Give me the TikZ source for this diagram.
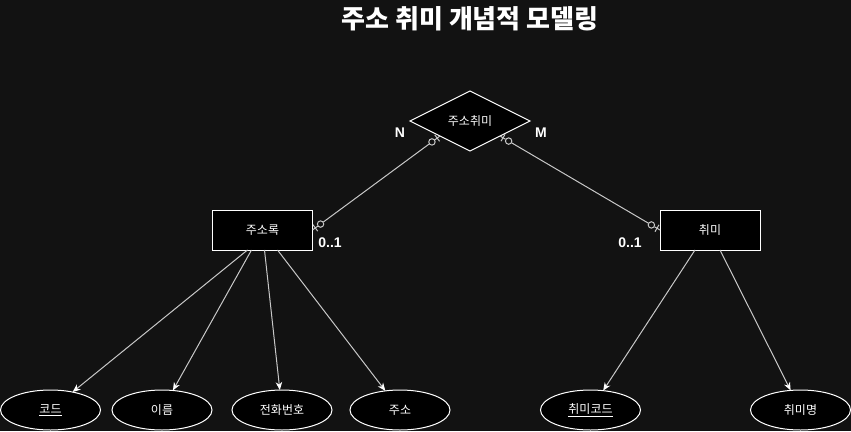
\documentclass[tikz,border=0pt]{standalone}
\usepackage{fontspec}
\setmainfont{Liberation Sans}
\newfontfamily\kr{Noto Sans CJK KR}
\usetikzlibrary{shapes.geometric,arrows.meta,calc}
\definecolor{bgc}{RGB}{18,18,18}
\definecolor{lnc}{RGB}{200,200,200}
\begin{document}
\begin{tikzpicture}[x=1pt,y=-1pt,
  entity/.style={draw=white,fill=black,line width=1pt,minimum width=100pt,minimum height=40pt,inner sep=0pt,outer sep=0pt,text=white,font=\kr\fontsize{12}{14}\selectfont},
  attr/.style={ellipse,draw=white,fill=black,line width=1pt,minimum width=100pt,minimum height=40pt,inner sep=0pt,outer sep=0pt,text=white,font=\kr\fontsize{12}{14}\selectfont},
  rel/.style={diamond,draw=white,fill=black,line width=1pt,minimum width=120pt,minimum height=60pt,inner sep=0pt,outer sep=0pt,text=white,font=\kr\fontsize{12}{14}\selectfont},
  conn/.style={draw=lnc,line width=1pt},
  arr/.style={conn,-{Stealth[length=8pt,width=6.5pt,inset=2.5pt,color=white,fill=white]}},
  lab/.style={text=white,font=\bfseries\fontsize{14}{16}\selectfont,inner sep=0pt},
  ttl/.style={text=white,font=\kr\bfseries\fontsize{26}{28}\selectfont,inner sep=0pt}
]
\fill[bgc] (0,0) rectangle (851,431);
\useasboundingbox (0,0) rectangle (851,431);

\node[ttl] (title) at (470,18.5) {주소 취미 개념적 모델링};

\node[rel] (rel) at (470,121) {주소취미};
\node[entity] (addr) at (262.5,230) {주소록};
\node[entity] (hob) at (710,230) {취미};

\node[attr] (code) at (50.5,410) {\underline{코드}};
\node[attr] (name) at (162,410) {이름};
\node[attr] (tel) at (282,410) {전화번호};
\node[attr] (adr) at (400,410) {주소};
\node[attr] (hcode) at (590.5,410) {\underline{취미코드}};
\node[attr] (hname) at (800.5,410) {취미명};

\node[lab] (n) at (400,133) {N};
\node[lab] (m) at (541,133) {M};
\node[lab] (z1) at (330,243) {0..1};
\node[lab] (z2) at (630,243) {0..1};

% relationship connectors with zero-to-one markers at both ends
\foreach \p/\q in {rel.south west/addr.east, addr.east/rel.south west, rel.south east/hob.west, hob.west/rel.south east}{
  \draw[conn] ($(\p)!3.5pt!(\q)$) coordinate (bc) ($(bc)!4pt!90:(\q)$) -- ($(bc)!4pt!-90:(\q)$);
}
\draw[conn] ($(rel.south west)!13.5pt!(addr.east)$) -- ($(addr.east)!13.5pt!(rel.south west)$);
\draw[conn] (rel.south west) -- ($(rel.south west)!6.5pt!(addr.east)$);
\draw[conn] (addr.east) -- ($(addr.east)!6.5pt!(rel.south west)$);
\draw[conn] ($(rel.south east)!13.5pt!(hob.west)$) -- ($(hob.west)!13.5pt!(rel.south east)$);
\draw[conn] (rel.south east) -- ($(rel.south east)!6.5pt!(hob.west)$);
\draw[conn] (hob.west) -- ($(hob.west)!6.5pt!(rel.south east)$);
\foreach \p/\q in {rel.south west/addr.east, addr.east/rel.south west, rel.south east/hob.west, hob.west/rel.south east}{
  \draw[conn,fill=bgc] ($(\p)!10pt!(\q)$) circle (3.2pt);
}

% attribute connectors
\coordinate (a1) at ($(addr.south west)!0.35!(addr.south east)$);
\coordinate (a2) at ($(addr.south west)!0.39!(addr.south east)$);
\coordinate (a3) at ($(addr.south west)!0.52!(addr.south east)$);
\coordinate (a4) at ($(addr.south west)!0.65!(addr.south east)$);
\coordinate (h1) at ($(hob.south west)!0.35!(hob.south east)$);
\coordinate (h2) at ($(hob.south west)!0.60!(hob.south east)$);
\draw[arr] (a1) -- (code);
\draw[arr] (a2) -- (name);
\draw[arr] (a3) -- (tel);
\draw[arr] (a4) -- (adr);
\draw[arr] (h1) -- (hcode);
\draw[arr] (h2) -- (hname);
\end{tikzpicture}
\end{document}
